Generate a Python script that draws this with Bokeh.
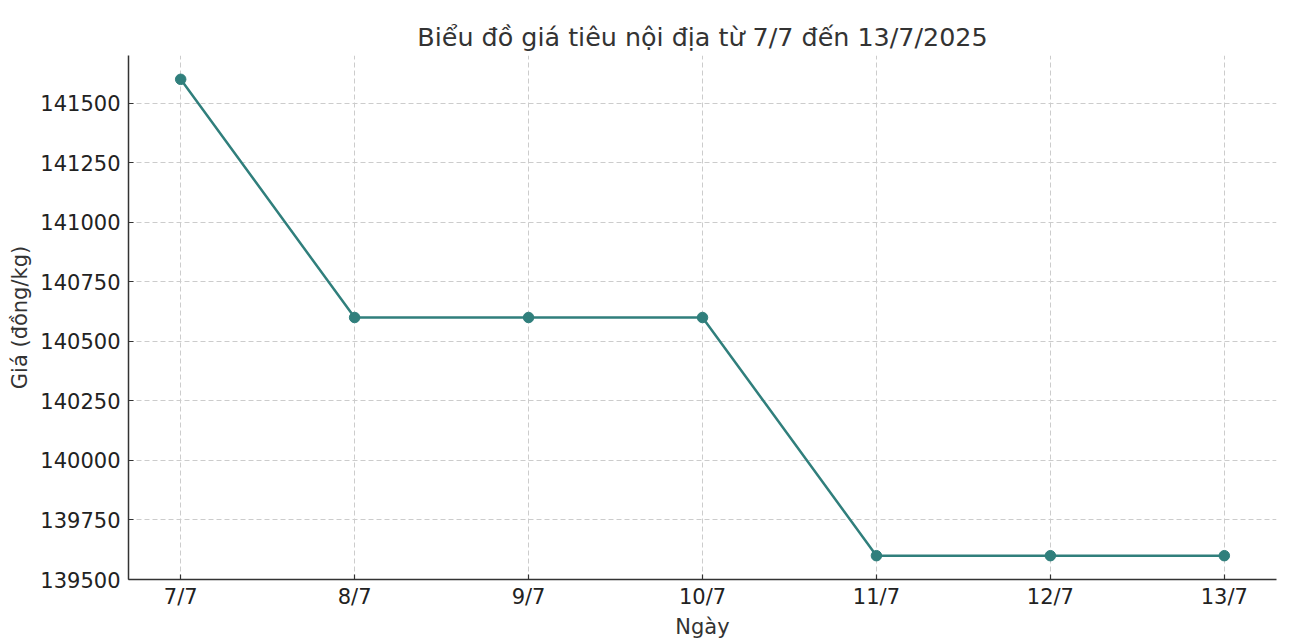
from bokeh.plotting import figure
from bokeh.models import Range1d, FixedTicker, BasicTickFormatter
from bokeh.embed import file_html
from bokeh.resources import INLINE

dates = ["7/7", "8/7", "9/7", "10/7", "11/7", "12/7", "13/7"]
prices = [141600, 140600, 140600, 140600, 139600, 139600, 139600]
y_ticks = [139500, 139750, 140000, 140250, 140500, 140750, 141000, 141250, 141500]

xs = list(range(len(dates)))
FONT = "DejaVu Sans"
LINE = "#307f7c"

p = figure(width=1292, height=644, output_backend="svg", toolbar_location=None,
           x_range=Range1d(-0.3, len(dates) - 1 + 0.3),
           y_range=Range1d(139500, 141700),
           min_border_left=128, min_border_right=16, min_border_top=55, min_border_bottom=65)

p.title.text = "Biểu đồ giá tiêu nội địa từ 7/7 đến 13/7/2025"
p.title.align = "center"
p.title.text_font = FONT
p.title.text_font_size = "25.4px"
p.title.text_font_style = "normal"
p.title.text_color = "#333333"
p.title.offset = 0
p.title.standoff = 7

p.outline_line_color = None
p.background_fill_color = "white"
p.border_fill_color = "white"

p.line(xs, prices, line_color=LINE, line_width=2.5)
p.scatter(xs, prices, size=10.5, fill_color=LINE, line_color=LINE)

p.xaxis.ticker = FixedTicker(ticks=xs)
p.xaxis.major_label_overrides = {i: d for i, d in enumerate(dates)}
p.yaxis.ticker = FixedTicker(ticks=y_ticks)
p.yaxis.formatter = BasicTickFormatter(use_scientific=False)

for ax in (p.xaxis, p.yaxis):
    ax.axis_line_color = "#333333"
    ax.axis_line_width = 1.5
    ax.major_tick_line_color = "#333333"
    ax.major_tick_line_width = 1.2
    ax.major_tick_in = 5
    ax.major_tick_out = 0
    ax.minor_tick_line_color = None
    ax.major_label_text_font = FONT
    ax.major_label_text_font_size = "21px"
    ax.major_label_text_color = "#222222"
    ax.axis_label_text_font = FONT
    ax.axis_label_text_font_size = "21px"
    ax.axis_label_text_font_style = "normal"
    ax.axis_label_text_color = "#333333"

p.xaxis.axis_label = "Ngày"
p.yaxis.axis_label = "Giá (đồng/kg)"
p.xaxis.major_label_standoff = 5
p.yaxis.major_label_standoff = 8
p.xaxis.axis_label_standoff = 3
p.yaxis.axis_label_standoff = 5

p.grid.grid_line_color = "#cccccc"
p.grid.grid_line_dash = "5 3"
p.grid.grid_line_width = 1

open("out.html", "w").write(file_html(p, INLINE))
